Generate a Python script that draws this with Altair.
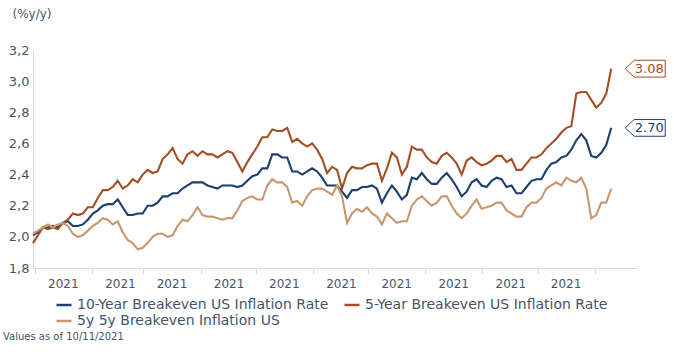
import altair as alt
import pandas as pd

START = "2020-12-31"
END = "2021-11-10"
AS_OF = "Values as of 10/11/2021"
Y_TITLE = "(%y/y)"

SERIES = [
    "10-Year Breakeven US Inflation Rate",
    "5-Year Breakeven US Inflation Rate",
    "5y 5y Breakeven Inflation US",
]
COLORS = ["#1B3F6E", "#A34E25", "#C8976E"]
Y_TICKS = [1.8, 2.0, 2.2, 2.4, 2.6, 2.8, 3.0, 3.2]

BE10 = [2.01, 2.03, 2.06, 2.06, 2.07, 2.06, 2.09, 2.10, 2.07, 2.07,
        2.08, 2.11, 2.15, 2.17, 2.20, 2.21, 2.21, 2.24, 2.19, 2.14,
        2.14, 2.15, 2.15, 2.20, 2.20, 2.22, 2.26, 2.26, 2.28, 2.28,
        2.31, 2.33, 2.35, 2.35, 2.35, 2.33, 2.32, 2.31, 2.33, 2.33,
        2.33, 2.32, 2.33, 2.36, 2.39, 2.40, 2.44, 2.44, 2.53, 2.53,
        2.51, 2.51, 2.42, 2.42, 2.40, 2.42, 2.44, 2.42, 2.38, 2.33,
        2.33, 2.33, 2.29, 2.25, 2.30, 2.30, 2.32, 2.32, 2.33, 2.31,
        2.22, 2.28, 2.33, 2.29, 2.24, 2.27, 2.38, 2.37, 2.41, 2.37,
        2.34, 2.34, 2.38, 2.41, 2.37, 2.32, 2.26, 2.29, 2.35, 2.37,
        2.33, 2.32, 2.36, 2.38, 2.37, 2.32, 2.33, 2.28, 2.28, 2.32,
        2.36, 2.37, 2.37, 2.43, 2.47, 2.48, 2.51, 2.52, 2.56, 2.62,
        2.66, 2.62, 2.52, 2.51, 2.54, 2.59, 2.70]

BE5 = [1.96, 2.01, 2.06, 2.05, 2.06, 2.05, 2.09, 2.11, 2.15, 2.14,
       2.15, 2.19, 2.19, 2.25, 2.30, 2.30, 2.32, 2.36, 2.31, 2.33,
       2.37, 2.35, 2.40, 2.43, 2.41, 2.42, 2.50, 2.53, 2.57, 2.50,
       2.47, 2.53, 2.55, 2.52, 2.55, 2.53, 2.53, 2.51, 2.53, 2.55,
       2.54, 2.48, 2.42, 2.48, 2.53, 2.58, 2.64, 2.64, 2.69, 2.68,
       2.68, 2.70, 2.61, 2.63, 2.60, 2.58, 2.60, 2.56, 2.50, 2.41,
       2.45, 2.43, 2.31, 2.41, 2.45, 2.44, 2.44, 2.46, 2.47, 2.47,
       2.36, 2.44, 2.54, 2.51, 2.40, 2.45, 2.58, 2.56, 2.56, 2.51,
       2.48, 2.47, 2.52, 2.54, 2.51, 2.47, 2.40, 2.49, 2.51, 2.48,
       2.46, 2.47, 2.49, 2.52, 2.52, 2.48, 2.50, 2.43, 2.43, 2.47,
       2.51, 2.51, 2.53, 2.57, 2.60, 2.63, 2.67, 2.70, 2.71, 2.92,
       2.93, 2.93, 2.88, 2.83, 2.86, 2.92, 3.08]

BE5Y5Y = [2.02, 2.04, 2.06, 2.08, 2.06, 2.08, 2.09, 2.07, 2.02, 2.00,
          2.01, 2.04, 2.07, 2.09, 2.12, 2.11, 2.08, 2.10, 2.03, 1.98,
          1.96, 1.92, 1.93, 1.96, 2.00, 2.02, 2.02, 2.00, 2.01, 2.07,
          2.11, 2.10, 2.14, 2.19, 2.14, 2.13, 2.13, 2.12, 2.11, 2.12,
          2.12, 2.17, 2.23, 2.25, 2.26, 2.24, 2.24, 2.33, 2.37, 2.35,
          2.35, 2.32, 2.22, 2.23, 2.20, 2.26, 2.30, 2.31, 2.31, 2.29,
          2.27, 2.33, 2.26, 2.09, 2.15, 2.18, 2.16, 2.19, 2.15, 2.13,
          2.08, 2.15, 2.12, 2.09, 2.10, 2.10, 2.20, 2.24, 2.26, 2.23,
          2.20, 2.22, 2.26, 2.26, 2.20, 2.15, 2.12, 2.15, 2.20, 2.24,
          2.18, 2.19, 2.20, 2.22, 2.22, 2.17, 2.15, 2.13, 2.13, 2.19,
          2.22, 2.22, 2.25, 2.31, 2.33, 2.35, 2.33, 2.38, 2.36, 2.35,
          2.38, 2.31, 2.12, 2.14, 2.22, 2.22, 2.31]

FONT = "DejaVu Sans"
TEXT_COLOR = "#44546A"
AXIS_COLOR = "#D9D9D9"

dates = list(pd.date_range(START, END, periods=len(BE10)).strftime("%Y-%m-%dT%H:%M:%S"))
rows = []
for name, vals in zip(SERIES, [BE10, BE5, BE5Y5Y]):
    for d, v in zip(dates, vals):
        rows.append({"date": d, "value": v, "series": name})
df = pd.DataFrame(rows)

end_df = pd.DataFrame({
    "date": [dates[-1], dates[-1]],
    "value": [BE10[-1], BE5[-1]],
    "series": SERIES[:2],
    "label": [f"{BE10[-1]:.2f}", f"{BE5[-1]:.2f}"],
})

color_scale = alt.Scale(domain=SERIES, range=COLORS)

x_enc = alt.X(
    "date:T",
    scale=alt.Scale(domain=[alt.DateTime(year=2020, month=12, date=31),
                            alt.DateTime(year=2021, month=11, date=24)]),
    axis=alt.Axis(
        values=[alt.DateTime(year=2021, month=m, date=1) for m in range(1, 12)],
        labelExpr="month(datum.value) == 10 ? '' : timeFormat(datum.value, '%Y')",
        labelOffset=28,
        labelOverlap=False,
        labelFlush=False,
        labelBound=False,
        tickSize=6,
        tickColor=AXIS_COLOR,
        domainColor=AXIS_COLOR,
        labelColor=TEXT_COLOR,
        labelFont=FONT,
        labelFontSize=12,
        labelPadding=4,
        grid=False,
    ),
    title=None,
)

y_enc = alt.Y(
    "value:Q",
    scale=alt.Scale(domain=[1.8, 3.2], nice=False, zero=False),
    axis=alt.Axis(
        values=Y_TICKS,
        labelExpr="replace(format(datum.value, '.1f'), '.', ',')",
        labelOverlap=False,
        labelFlush=False,
        labelSeparation=0,
        ticks=False,
        labelPadding=4,
        domainColor=AXIS_COLOR,
        labelColor=TEXT_COLOR,
        labelFont=FONT,
        labelFontSize=13,
        grid=False,
        title=Y_TITLE,
        titleAngle=0,
        titleX=-21,
        titleY=-37,
        titleAlign="left",
        titleBaseline="middle",
        titleFont=FONT,
        titleFontSize=12,
        titleFontWeight="normal",
        titleColor=TEXT_COLOR,
    ),
)

lines = alt.Chart(df).mark_line(strokeWidth=2.1).encode(
    x=x_enc,
    y=y_enc,
    color=alt.Color(
        "series:N",
        scale=color_scale,
        sort=SERIES,
        legend=alt.Legend(
            orient="none",
            legendX=22,
            legendY=246,
            direction="horizontal",
            columns=2,
            title=None,
            symbolType="stroke",
            symbolSize=225,
            symbolStrokeWidth=2.5,
            labelFont=FONT,
            labelFontSize=14,
            labelColor=TEXT_COLOR,
            labelLimit=400,
            columnPadding=10,
            rowPadding=0,
            padding=0,
            labelOffset=4,
        ),
    ),
)

BOX = "M -1 0 L -0.55 -0.42 L 1 -0.42 L 1 0.42 L -0.55 0.42 Z"

boxes = alt.Chart(end_df).mark_point(
    shape=BOX, size=1600, fill="white", fillOpacity=1, opacity=1,
    strokeWidth=1, xOffset=34,
).encode(
    x=x_enc,
    y=y_enc,
    stroke=alt.Stroke("series:N", scale=color_scale, legend=None),
)

labels = alt.Chart(end_df).mark_text(
    dx=38, align="center", baseline="middle", font=FONT, fontSize=13,
).encode(
    x=x_enc,
    y=y_enc,
    text="label:N",
    color=alt.Color("series:N", scale=color_scale, legend=None),
)

chart = alt.layer(lines, boxes, labels).properties(
    width=604,
    height=218,
    autosize=alt.AutoSizeParams(type="none"),
    padding={"left": 33, "top": 50, "right": 37, "bottom": 84},
    title=alt.TitleParams(
        AS_OF,
        orient="bottom",
        anchor="start",
        frame="group",
        dx=-30,
        offset=4,
        font=FONT,
        fontSize=10,
        fontWeight="normal",
        color=TEXT_COLOR,
    ),
).configure_view(stroke=None).configure_axisY(labelOverlap=False)

chart.save("out.html", embed_options={"renderer": "svg", "actions": False})
